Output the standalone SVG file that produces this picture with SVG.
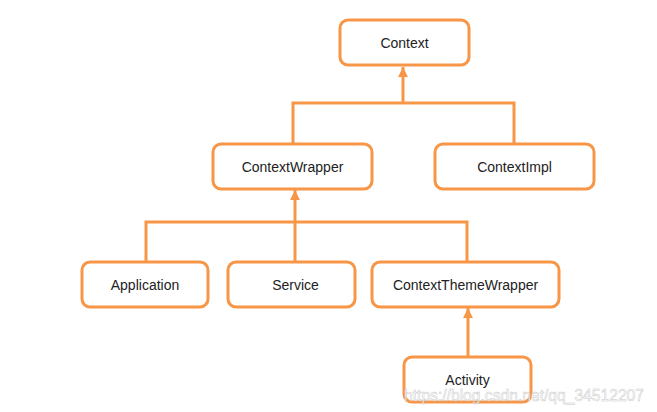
<svg xmlns="http://www.w3.org/2000/svg" width="657" height="412" viewBox="0 0 657 412">
<style>
.box{fill:#fff;stroke:#f79646;stroke-width:3}
.lbl{font-family:"Liberation Sans",Arial,sans-serif;font-size:14px;fill:#222;text-anchor:middle;dominant-baseline:central}
.ln{fill:none;stroke:#f79646;stroke-width:3}
.wm{font-family:"Liberation Sans",Arial,sans-serif;font-size:16px;fill:#fff;stroke:#bbb;stroke-width:0.5;opacity:0.8}
</style>
<defs>
<marker id="ah" viewBox="0 0 10 10" refX="10" refY="5" markerWidth="3.3" markerHeight="3.3" orient="auto" markerUnits="strokeWidth">
<path d="M0,0 L10,5 L0,10 Z" fill="#f79646"/>
</marker>
</defs>
<rect width="657" height="412" fill="#fff"/>
<g id="connectors">
<path class="ln" d="M293,144 V103 H514 V144"/>
<path class="ln" d="M403,103 V67" marker-end="url(#ah)"/>
<path class="ln" d="M146,262 V222 H467 V262"/>
<path class="ln" d="M295,262 V190" marker-end="url(#ah)"/>
<path class="ln" d="M468,357 V308" marker-end="url(#ah)"/>
</g>
<g id="context"><rect class="box" x="340" y="20" width="129" height="45" rx="8"/><text class="lbl" x="404.5" y="42.5">Context</text></g>
<g id="contextwrapper"><rect class="box" x="213" y="144" width="159" height="45" rx="8"/><text class="lbl" x="292.5" y="166.5">ContextWrapper</text></g>
<g id="contextimpl"><rect class="box" x="435" y="144" width="159" height="45" rx="8"/><text class="lbl" x="514.5" y="166.5">ContextImpl</text></g>
<g id="application"><rect class="box" x="82" y="262" width="126" height="45" rx="8"/><text class="lbl" x="145" y="284.5">Application</text></g>
<g id="service"><rect class="box" x="228" y="262" width="127" height="45" rx="8"/><text class="lbl" x="295.5" y="284.5">Service</text></g>
<g id="contextthemewrapper"><rect class="box" x="372" y="262" width="187" height="45" rx="8"/><text class="lbl" x="465.5" y="284.5">ContextThemeWrapper</text></g>
<g id="activity"><rect class="box" x="404" y="357" width="127" height="45" rx="8"/><text class="lbl" x="467.5" y="379.5">Activity</text></g>
<text class="wm" x="404" y="401" textLength="240" lengthAdjust="spacingAndGlyphs">https://blog.csdn.net/qq_34512207</text>
</svg>
